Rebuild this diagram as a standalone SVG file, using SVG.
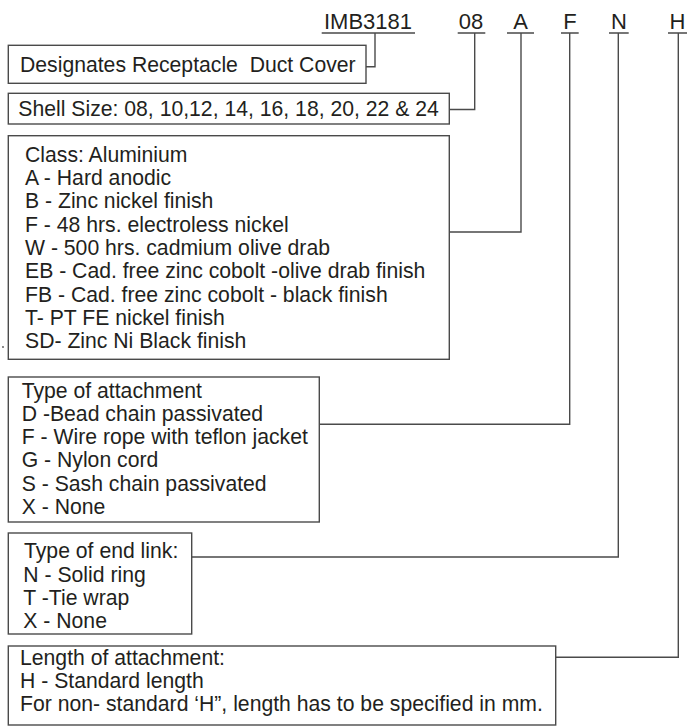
<svg xmlns="http://www.w3.org/2000/svg" width="693" height="726" viewBox="0 0 693 726">
<style>
.bx{fill:#fff;stroke:#4a4a4a;stroke-width:1.4}
.ln{fill:none;stroke:#4a4a4a;stroke-width:1.4}
.t{font-family:"Liberation Sans",Arial,sans-serif;font-size:21.2px;fill:#231f20;white-space:pre}
.h{font-family:"Liberation Sans",Arial,sans-serif;font-size:22px;fill:#231f20;text-anchor:middle}
</style>
<rect width="693" height="726" fill="#fff"/>
<g id="code">
<text class="h" x="368" y="29">IMB3181</text>
<text class="h" x="471" y="29">08</text>
<text class="h" x="520.5" y="29">A</text>
<text class="h" x="570" y="29">F</text>
<text class="h" x="619" y="29">N</text>
<text class="h" x="677.5" y="29">H</text>
<path class="ln" d="M321.7 33H415M457.7 33H485.3M507 33H534M561 33H578.7M609 33H628.7M668 33H687"/>
</g>
<g id="connectors">
<path class="ln" d="M375 33V66.7H366"/>
<path class="ln" d="M474.7 33V109.5H449.3"/>
<path class="ln" d="M521 33V232H449.3"/>
<path class="ln" d="M569.7 33V424.3H319.3"/>
<path class="ln" d="M618.3 33V557H191.7"/>
<path class="ln" d="M678.3 33V657.3H555.7"/>
</g>
<g id="designates">
<rect class="bx" x="8.3" y="45.3" width="357.7" height="38"/>
<text class="t" x="20" y="71.7">Designates Receptacle  Duct Cover</text>
</g>
<g id="shell">
<rect class="bx" x="8.3" y="93.3" width="441" height="30.7"/>
<text class="t" x="18.3" y="115.5">Shell Size: 08, 10,12, 14, 16, 18, 20, 22 &amp; 24</text>
</g>
<g id="class">
<rect class="bx" x="8.3" y="135.7" width="441" height="223.6"/>
<text class="t" x="25" y="161.7">Class: Aluminium</text>
<text class="t" x="25" y="185">A - Hard anodic</text>
<text class="t" x="25" y="208.3">B - Zinc nickel finish</text>
<text class="t" x="25" y="231.6">F - 48 hrs. electroless nickel</text>
<text class="t" x="25" y="254.9">W - 500 hrs. cadmium olive drab</text>
<text class="t" x="25" y="278.2">EB - Cad. free zinc cobolt -olive drab finish</text>
<text class="t" x="25" y="301.5">FB - Cad. free zinc cobolt - black finish</text>
<text class="t" x="25" y="324.8">T- PT FE nickel finish</text>
<text class="t" x="25" y="348.1">SD- Zinc Ni Black finish</text>
</g>
<circle cx="3" cy="347" r="0.9" fill="#555"/>
<g id="attachment">
<rect class="bx" x="8.3" y="377" width="311" height="145"/>
<text class="t" x="21.7" y="397.5">Type of attachment</text>
<text class="t" x="21.7" y="420.8">D -Bead chain passivated</text>
<text class="t" x="21.7" y="444.1">F - Wire rope with teflon jacket</text>
<text class="t" x="21.7" y="467.4">G - Nylon cord</text>
<text class="t" x="21.7" y="490.7">S - Sash chain passivated</text>
<text class="t" x="21.7" y="514">X - None</text>
</g>
<g id="endlink">
<rect class="bx" x="8.3" y="533" width="183.4" height="101"/>
<text class="t" x="24" y="558.3">Type of end link:</text>
<text class="t" x="23.3" y="581.6">N - Solid ring</text>
<text class="t" x="23.3" y="604.9">T -Tie wrap</text>
<text class="t" x="23.3" y="628.2">X - None</text>
</g>
<g id="length">
<rect class="bx" x="8.3" y="646" width="547.4" height="79"/>
<text class="t" x="20" y="664.5">Length of attachment:</text>
<text class="t" x="20" y="687.8">H - Standard length</text>
<text class="t" x="20" y="711.1">For non- standard ‘H”, length has to be specified in mm.</text>
</g>
</svg>
